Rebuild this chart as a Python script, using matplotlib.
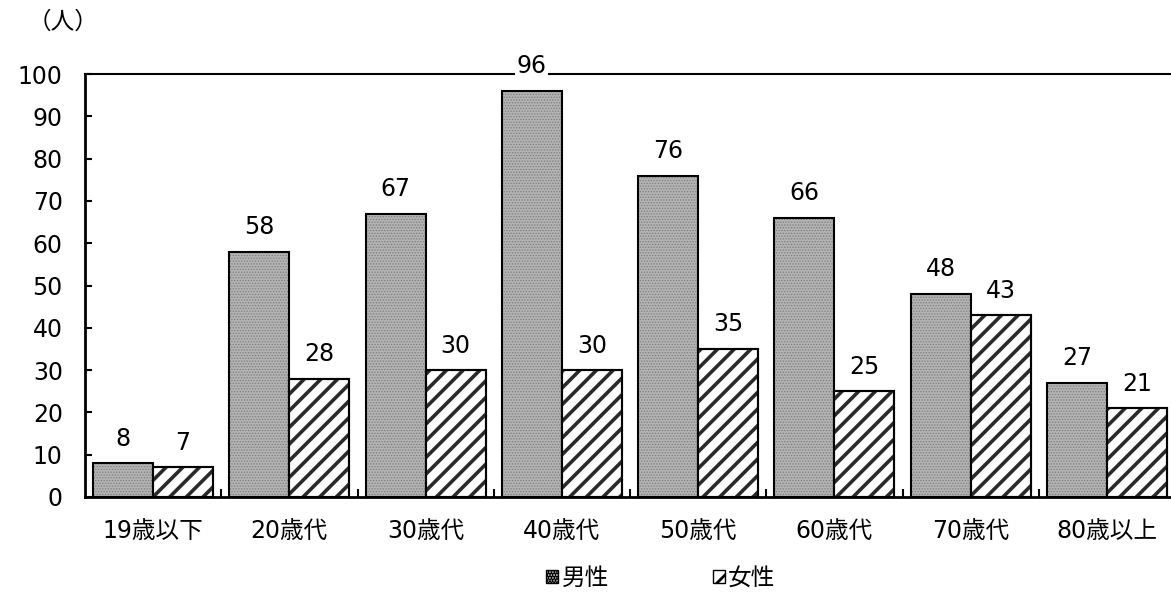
import numpy as np
import matplotlib.pyplot as plt
from matplotlib.patches import Patch

plt.rcParams['font.family'] = ['DejaVu Sans', 'Noto Sans CJK JP']

categories = ['19歳以下', '20歳代', '30歳代', '40歳代', '50歳代', '60歳代', '70歳代', '80歳以上']
male = [8, 58, 67, 96, 76, 66, 48, 27]
female = [7, 28, 30, 30, 35, 25, 43, 21]
series_names = ['男性', '女性']
yticks = list(range(0, 101, 10))

MALE_FACE = '#b3b3b3'
MALE_DOT = '#7c7c7c'
FS = 17

fig = plt.figure(figsize=(11.71, 5.96), dpi=100)
ax = fig.add_axes([85 / 1171, 99 / 596, 1090 / 1171, 423 / 596])

x = np.arange(len(categories))
w = 0.44

# male bars: grey with a fine dot texture, black outline drawn on top
plt.rcParams['hatch.linewidth'] = 0.6
ax.bar(x - w / 2, male, w, color=MALE_FACE, edgecolor=MALE_DOT, hatch='......', linewidth=0, zorder=2)
ax.bar(x - w / 2, male, w, fill=False, edgecolor='black', linewidth=1.5, zorder=3)
# female bars: white with black diagonal stripes
plt.rcParams['hatch.linewidth'] = 2.6
ax.bar(x + w / 2, female, w, color='white', edgecolor='#2a2a2a', hatch='//', linewidth=1.5, zorder=3)
ax.bar(x + w / 2, female, w, fill=False, edgecolor='black', linewidth=1.5, zorder=3)

for xs, vals in ((x - w / 2, male), (x + w / 2, female)):
    for xi, v in zip(xs, vals):
        ax.annotate(str(v), (xi, v), xytext=(0, 9), textcoords='offset points',
                    ha='center', va='bottom', fontsize=FS, zorder=5,
                    bbox=dict(facecolor='white', edgecolor='none', pad=1))

ax.set_xlim(-0.5, 7.5)
ax.set_ylim(0, 100)
ax.set_yticks(yticks)
ax.tick_params(axis='y', direction='in', length=5, width=1.5, labelsize=FS, pad=16)
ax.set_xticks(x)
ax.set_xticklabels(categories)
ax.tick_params(axis='x', which='major', length=0, labelsize=FS, pad=16)
ax.set_xticks(np.arange(0.5, len(categories) - 0.5, 1), minor=True)
ax.tick_params(axis='x', which='minor', direction='in', length=6, width=1.5)

ax.spines['right'].set_visible(False)
ax.spines['top'].set_linewidth(1.5)
ax.spines['top'].set_zorder(1)
ax.spines['left'].set_linewidth(2)
ax.spines['bottom'].set_linewidth(2)

fig.text(28 / 1171, 1 - 22 / 596, '（人）', fontsize=FS, va='center', ha='left')

plt.rcParams['hatch.linewidth'] = 0.5
h_male = Patch(facecolor=MALE_FACE, edgecolor='black', hatch='......', linewidth=1.0)
plt.rcParams['hatch.linewidth'] = 2.0
h_female = Patch(facecolor='white', edgecolor='black', hatch='//', linewidth=1.0)
fig.legend([h_male, h_female], series_names, loc='center', bbox_to_anchor=(661 / 1171, 1 - 578 / 596),
           ncol=2, frameon=False, fontsize=FS, handlelength=0.5, handleheight=0.5,
           handletextpad=0.15, columnspacing=4.4)

fig.savefig('out.png', dpi=100)
